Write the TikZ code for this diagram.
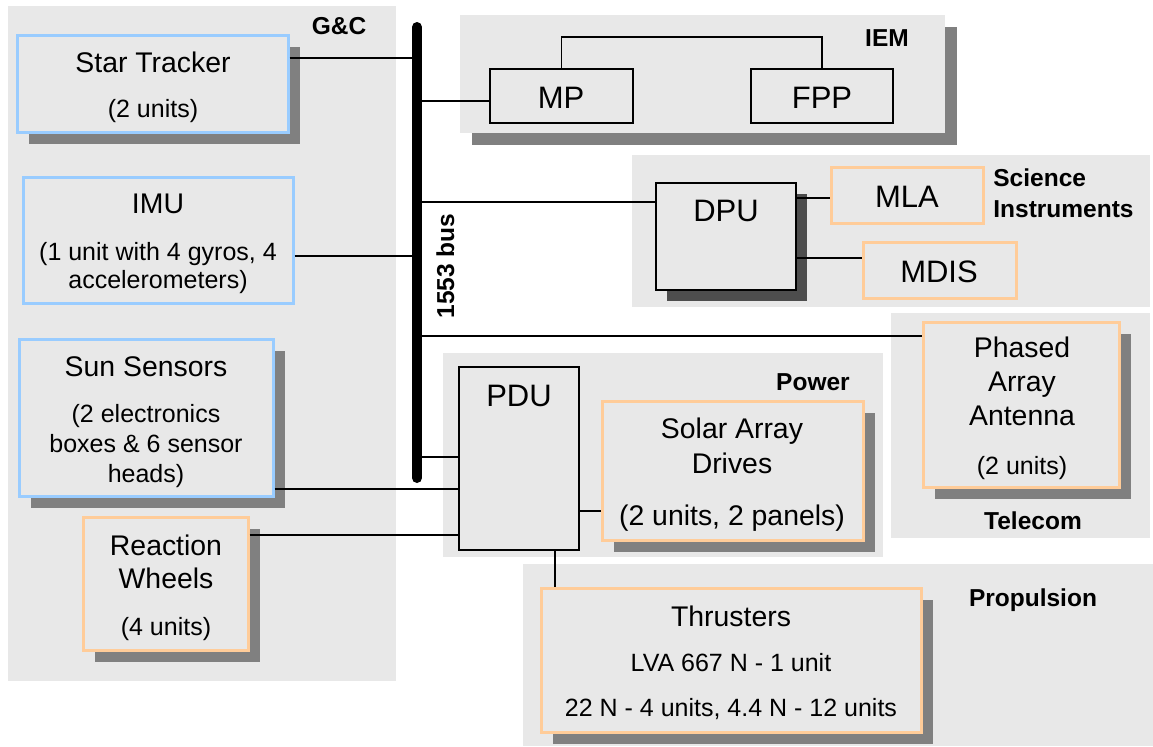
\documentclass[tikz,border=0pt]{standalone}
\usepackage{fontspec}
\setmainfont{Liberation Sans}
\usetikzlibrary{fit,shadows}
\definecolor{panelgray}{HTML}{E8E8E8}
\definecolor{shadowgray}{HTML}{808080}
\definecolor{darkshadow}{HTML}{4D4D4D}
\definecolor{skyborder}{HTML}{99CCFF}
\definecolor{peachborder}{HTML}{FFCC99}

\begin{document}
\begin{tikzpicture}[x=0.5pt, y=-0.5pt,
    panel/.style = {fill=panelgray, draw=none, inner sep=0pt},
    unitbox/.style = {fill=panelgray, line width=1.5pt, inner sep=0pt},
    skybox/.style = {unitbox, draw=skyborder},
    peachbox/.style = {unitbox, draw=peachborder},
    blackbox/.style = {fill=panelgray, draw=black, line width=0.8pt, inner sep=0pt},
    castshadow/.style = {drop shadow={shadow xshift=5.75pt, shadow yshift=-6pt, fill=#1, opacity=1}},
    castshadow/.default = shadowgray,
    wire/.style = {draw=black, line width=0.8pt},
    bigtxt/.style = {font=\fontsize{15.5}{18}\selectfont, inner sep=0pt, anchor=base},
    midtxt/.style = {font=\fontsize{14.2}{17}\selectfont, inner sep=0pt, anchor=base},
    smalltxt/.style = {font=\fontsize{12.5}{15}\selectfont, inner sep=0pt, anchor=base},
    grplabel/.style = {font=\fontsize{12.25}{15}\selectfont\bfseries, inner sep=0pt, anchor=base}]
    \useasboundingbox (0,0) rectangle (1153,746);

    % subsystem panels
    \node[panel, fit={(8,6) (396,681)}] (gnc) {};
    \node[panel, castshadow, fit={(460,15) (945,133)}] (iem) {};
    \node[panel, fit={(632,155) (1150,307)}] (sci) {};
    \node[panel, fit={(891,313) (1150,538)}] (telecom) {};
    \node[panel, fit={(443,353) (883,557)}] (power) {};
    \node[panel, fit={(523,564) (1153,746)}] (prop) {};

    % units
    \node[skybox, castshadow, fit={(17,35) (288,132)}] (star) {};
    \node[skybox, fit={(23,177) (293,303)}] (imu) {};
    \node[skybox, castshadow, fit={(19,339) (273,496)}] (sun) {};
    \node[peachbox, castshadow, fit={(83,517) (248,650)}] (rw) {};
    \node[blackbox, fit={(490,69) (633,123)}] (mp) {};
    \node[blackbox, fit={(751,69) (893,123)}] (fpp) {};
    \node[blackbox, drop shadow={shadow xshift=5.5pt, shadow yshift=-5.5pt, fill=darkshadow, opacity=1}, fit={(656,183) (796,290)}] (dpu) {};
    \node[peachbox, fit={(831,167) (983,223)}] (mla) {};
    \node[peachbox, fit={(863,242) (1016,298)}] (mdis) {};
    \node[peachbox, castshadow, fit={(923,322) (1119,487)}] (paa) {};
    \node[blackbox, fit={(459,367) (579,550)}] (pdu) {};
    \node[peachbox, castshadow, fit={(602,401) (863,540)}] (sad) {};
    \node[peachbox, castshadow, fit={(541,588) (921,732)}] (thr) {};

    % bus taps and rows
    \coordinate (bustop) at (417,27);
    \coordinate (busbot) at (417,478);
    \coordinate (tapstar) at (417,58);
    \coordinate (tapmp) at (417,101);
    \coordinate (tapdpu) at (417,202);
    \coordinate (tapimu) at (417,256);
    \coordinate (tappaa) at (417,336);
    \coordinate (tappdu) at (417,457);
    \coordinate (rowiem) at (0,37);
    \coordinate (rowmla) at (0,198);
    \coordinate (rowmdis) at (0,258);
    \coordinate (rowsun) at (0,489);
    \coordinate (rowsad) at (0,511);
    \coordinate (rowrw) at (0,535);
    \coordinate (colthr) at (555,0);

    % connections
    \draw[wire] (star.east |- tapstar) -- (tapstar);
    \draw[wire] (imu.east |- tapimu) -- (tapimu);
    \draw[wire] (tapmp) -- (mp.west |- tapmp);
    \draw[wire] (tapdpu) -- (dpu.west |- tapdpu);
    \draw[wire] (tappaa) -- (paa.west |- tappaa);
    \draw[wire] (tappdu) -- (pdu.west |- tappdu);
    \draw[wire] (sun.east |- rowsun) -- (pdu.west |- rowsun);
    \draw[wire] (rw.east |- rowrw) -- (pdu.west |- rowrw);
    \draw[wire] (dpu.east |- rowmla) -- (mla.west |- rowmla);
    \draw[wire] (dpu.east |- rowmdis) -- (mdis.west |- rowmdis);
    \draw[wire] (pdu.east |- rowsad) -- (sad.west |- rowsad);
    \draw[wire] (pdu.south -| colthr) -- (thr.north -| colthr);
    \draw[wire] (mp.north) -- (mp.north |- rowiem) -- (fpp.north |- rowiem) -- (fpp.north);

    % 1553 bus
    \draw[line width=5pt, line cap=round] (bustop) -- (busbot);
    \node[grplabel, rotate=90] (buslabel) at (454,266) {1553 bus};

    % texts
    \node[grplabel] (gnclabel) at (339,34) {G\&C};
    \node[midtxt] (startitle) at (153,72) {Star Tracker};
    \node[smalltxt] (starnote) at (153,117) {(2 units)};
    \node[midtxt] (imutitle) at (158,213) {IMU};
    \node[smalltxt] (imunote1) at (158,260) {(1 unit with 4 gyros, 4};
    \node[smalltxt] (imunote2) at (158,288) {accelerometers)};
    \node[midtxt] (suntitle) at (146,376) {Sun Sensors};
    \node[smalltxt] (sunnote1) at (146,422) {(2 electronics};
    \node[smalltxt] (sunnote2) at (146,452) {boxes \& 6 sensor};
    \node[smalltxt] (sunnote3) at (146,482) {heads)};
    \node[midtxt] (rwtitle1) at (166,555) {Reaction};
    \node[midtxt] (rwtitle2) at (166,588) {Wheels};
    \node[smalltxt] (rwnote) at (166,635) {(4 units)};

    \node[grplabel] (iemlabel) at (887,46) {IEM};
    \node[bigtxt] (mptitle) at (561,108) {MP};
    \node[bigtxt] (fpptitle) at (822,108) {FPP};

    \node[bigtxt] (dputitle) at (726,221) {DPU};
    \node[bigtxt] (mlatitle) at (907,207) {MLA};
    \node[bigtxt] (mdistitle) at (939,282) {MDIS};
    \node[grplabel, anchor=base west] (scilabel1) at (993,186) {Science};
    \node[grplabel, anchor=base west] (scilabel2) at (993,217) {Instruments};

    \node[midtxt] (paatitle1) at (1022,357) {Phased};
    \node[midtxt] (paatitle2) at (1022,391) {Array};
    \node[midtxt] (paatitle3) at (1022,425) {Antenna};
    \node[smalltxt] (paanote) at (1022,474) {(2 units)};
    \node[grplabel] (telecomlabel) at (1033,529) {Telecom};

    \node[bigtxt] (pdutitle) at (519,406) {PDU};
    \node[grplabel] (powerlabel) at (813,390) {Power};
    \node[midtxt] (sadtitle1) at (732,438) {Solar Array};
    \node[midtxt] (sadtitle2) at (732,473) {Drives};
    \node[midtxt] (sadnote) at (732,525) {(2 units, 2 panels)};

    \node[midtxt] (thrtitle) at (731,626) {Thrusters};
    \node[smalltxt] (thrnote1) at (731,671) {LVA 667 N - 1 unit};
    \node[smalltxt] (thrnote2) at (731,716) {22 N - 4 units, 4.4 N - 12 units};
    \node[grplabel] (proplabel) at (1033,606) {Propulsion};
\end{tikzpicture}
\end{document}
